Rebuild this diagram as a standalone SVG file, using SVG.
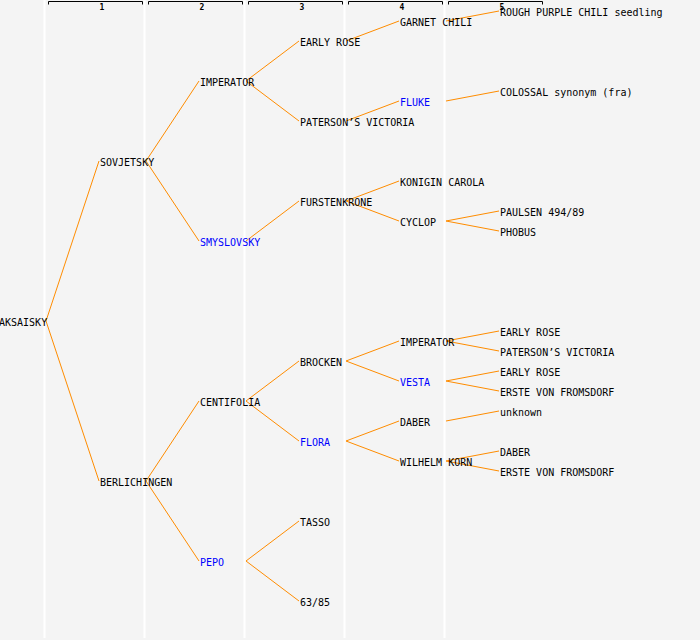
<svg xmlns="http://www.w3.org/2000/svg" width="700" height="640" viewBox="0 0 700 640">
<style>
.bg{fill:#f4f4f4}
.sep{stroke:#ffffff;stroke-width:2}
.hdr{fill:none;stroke:#000;stroke-width:1}
.hl{font-family:"DejaVu Sans Mono","Liberation Mono",monospace;font-size:8px;font-weight:bold;text-anchor:middle;fill:#000}
text.n{font-family:"DejaVu Sans Mono","Liberation Mono",monospace;font-size:10px;fill:#000}
text.b{fill:#0000ff}
#connectors line{stroke:#ff8c00;stroke-width:1}
</style>
<rect class="bg" x="0" y="0" width="700" height="640"/>
<g id="grid">
<line class="sep" x1="44.5" y1="0" x2="44.5" y2="638"/>
<line class="sep" x1="144.5" y1="0" x2="144.5" y2="638"/>
<line class="sep" x1="244.5" y1="0" x2="244.5" y2="638"/>
<line class="sep" x1="344.5" y1="0" x2="344.5" y2="638"/>
<line class="sep" x1="444.5" y1="0" x2="444.5" y2="638"/>
</g>
<g id="header">
<path class="hdr" d="M48.5,4.5V1.5H142.5V4.5"/><text class="hl" x="102" y="9.5">1</text>
<path class="hdr" d="M148.5,4.5V1.5H242.5V4.5"/><text class="hl" x="202" y="9.5">2</text>
<path class="hdr" d="M248.5,4.5V1.5H342.5V4.5"/><text class="hl" x="302" y="9.5">3</text>
<path class="hdr" d="M348.5,4.5V1.5H442.5V4.5"/><text class="hl" x="402" y="9.5">4</text>
<path class="hdr" d="M448.5,4.5V1.5H542.5V4.5"/><text class="hl" x="502" y="9.5">5</text>
</g>
<g id="connectors">
<line x1="46" y1="321" x2="99" y2="161"/>
<line x1="46" y1="321" x2="99" y2="481"/>
<line x1="146" y1="161" x2="199" y2="81"/>
<line x1="146" y1="161" x2="199" y2="241"/>
<line x1="146" y1="481" x2="199" y2="401"/>
<line x1="146" y1="481" x2="199" y2="561"/>
<line x1="246" y1="81" x2="299" y2="41"/>
<line x1="246" y1="81" x2="299" y2="121"/>
<line x1="246" y1="241" x2="299" y2="201"/>
<line x1="246" y1="401" x2="299" y2="361"/>
<line x1="246" y1="401" x2="299" y2="441"/>
<line x1="246" y1="561" x2="299" y2="521"/>
<line x1="246" y1="561" x2="299" y2="601"/>
<line x1="346" y1="41" x2="399" y2="21"/>
<line x1="346" y1="121" x2="399" y2="101"/>
<line x1="346" y1="201" x2="399" y2="181"/>
<line x1="346" y1="201" x2="399" y2="221"/>
<line x1="346" y1="361" x2="399" y2="341"/>
<line x1="346" y1="361" x2="399" y2="381"/>
<line x1="346" y1="441" x2="399" y2="421"/>
<line x1="346" y1="441" x2="399" y2="461"/>
<line x1="446" y1="21" x2="499" y2="11"/>
<line x1="446" y1="101" x2="499" y2="91"/>
<line x1="446" y1="221" x2="499" y2="211"/>
<line x1="446" y1="221" x2="499" y2="231"/>
<line x1="446" y1="341" x2="499" y2="331"/>
<line x1="446" y1="341" x2="499" y2="351"/>
<line x1="446" y1="381" x2="499" y2="371"/>
<line x1="446" y1="381" x2="499" y2="391"/>
<line x1="446" y1="421" x2="499" y2="411"/>
<line x1="446" y1="461" x2="499" y2="451"/>
<line x1="446" y1="461" x2="499" y2="471"/>
</g>
<g id="n-aksaisky"><text class="n" x="-1" y="326">AKSAISKY</text></g>
<g id="n-sovjetsky"><text class="n" x="100" y="166">SOVJETSKY</text></g>
<g id="n-berlichingen"><text class="n" x="100" y="486">BERLICHINGEN</text></g>
<g id="n-imperator"><text class="n" x="200" y="86">IMPERATOR</text></g>
<g id="n-smyslovsky"><text class="n b" x="200" y="246">SMYSLOVSKY</text></g>
<g id="n-centifolia"><text class="n" x="200" y="406">CENTIFOLIA</text></g>
<g id="n-pepo"><text class="n b" x="200" y="566">PEPO</text></g>
<g id="n-early-rose"><text class="n" x="300" y="46">EARLY ROSE</text></g>
<g id="n-patersons-victoria"><text class="n" x="300" y="126">PATERSON’S VICTORIA</text></g>
<g id="n-furstenkrone"><text class="n" x="300" y="206">FURSTENKRONE</text></g>
<g id="n-brocken"><text class="n" x="300" y="366">BROCKEN</text></g>
<g id="n-flora"><text class="n b" x="300" y="446">FLORA</text></g>
<g id="n-tasso"><text class="n" x="300" y="526">TASSO</text></g>
<g id="n-63-85"><text class="n" x="300" y="606">63/85</text></g>
<g id="n-garnet-chili"><text class="n" x="400" y="26">GARNET CHILI</text></g>
<g id="n-fluke"><text class="n b" x="400" y="106">FLUKE</text></g>
<g id="n-konigin-carola"><text class="n" x="400" y="186">KONIGIN CAROLA</text></g>
<g id="n-cyclop"><text class="n" x="400" y="226">CYCLOP</text></g>
<g id="n-imperator-2"><text class="n" x="400" y="346">IMPERATOR</text></g>
<g id="n-vesta"><text class="n b" x="400" y="386">VESTA</text></g>
<g id="n-daber"><text class="n" x="400" y="426">DABER</text></g>
<g id="n-wilhelm-korn"><text class="n" x="400" y="466">WILHELM KORN</text></g>
<g id="n-rough-purple"><text class="n" x="500" y="16">ROUGH PURPLE CHILI seedling</text></g>
<g id="n-colossal"><text class="n" x="500" y="96">COLOSSAL synonym (fra)</text></g>
<g id="n-paulsen"><text class="n" x="500" y="216">PAULSEN 494/89</text></g>
<g id="n-phobus"><text class="n" x="500" y="236">PHOBUS</text></g>
<g id="n-early-rose-2"><text class="n" x="500" y="336">EARLY ROSE</text></g>
<g id="n-patersons-victoria-2"><text class="n" x="500" y="356">PATERSON’S VICTORIA</text></g>
<g id="n-early-rose-3"><text class="n" x="500" y="376">EARLY ROSE</text></g>
<g id="n-erste-1"><text class="n" x="500" y="396">ERSTE VON FROMSDORF</text></g>
<g id="n-unknown"><text class="n" x="500" y="416">unknown</text></g>
<g id="n-daber-2"><text class="n" x="500" y="456">DABER</text></g>
<g id="n-erste-2"><text class="n" x="500" y="476">ERSTE VON FROMSDORF</text></g>
</svg>
